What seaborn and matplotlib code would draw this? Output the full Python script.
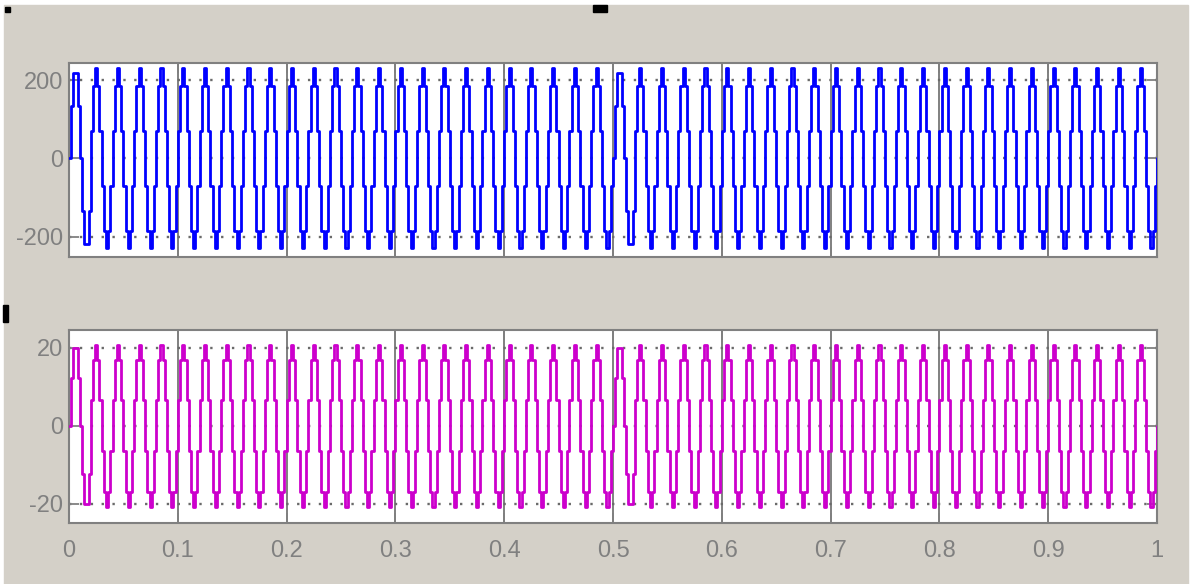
import numpy as np
import pandas as pd
import matplotlib
matplotlib.use("Agg")
import matplotlib.pyplot as plt
import seaborn as sns

# sample period of the logged signals (s) and the sample levels of one cycle,
# read off the scope picture (10 samples per 50 Hz cycle)
TS = 0.002
TOP_FLAT = [0, 135, 219, 219, 135, 0, -135, -219, -219, -135]
TOP_PEAK = [71, 186, 230, 186, 71, -71, -186, -228, -186, -71]
BOT_FLAT = [0, 12.3, 20.0, 20.0, 12.3, 0, -12.3, -20.0, -20.0, -12.3]
BOT_PEAK = [6.5, 17.0, 20.8, 17.0, 6.5, -6.5, -17.0, -20.8, -17.0, -6.5]
# which shape each of the 50 cycles has (F = flat top, P = pointed top)
CYCLE_SHAPES = "FPPPPPPPPPPPPPPPPPPPPPPPP" + "FPPPPPPPPPPPPPPPPPPPPPPPP"

X_TICKS = [0, 0.1, 0.2, 0.3, 0.4, 0.5, 0.6, 0.7, 0.8, 0.9, 1.0]
X_LABELS = ["0", "0.1", "0.2", "0.3", "0.4", "0.5", "0.6", "0.7", "0.8", "0.9", "1"]
TOP_YTICKS = [-200, 0, 200]
BOT_YTICKS = [-20, 0, 20]

BG = "#d4d0c8"
GREY = "#808080"


def build_signal(flat, peak):
    vals = []
    for s in CYCLE_SHAPES:
        vals.extend(flat if s == "F" else peak)
    vals.append(0)
    t = np.arange(len(vals)) * TS
    return pd.DataFrame({"t": t, "v": vals})


def style_axes(ax, yticks, ylim, show_x):
    ax.set_facecolor("white")
    ax.set_xlim(0, 1)
    ax.set_ylim(*ylim)
    ax.set_xticks(X_TICKS)
    ax.set_xticklabels(X_LABELS if show_x else [])
    ax.set_yticks(yticks)
    ax.set_yticklabels([str(v) for v in yticks])
    ax.set_xlabel("")
    ax.set_ylabel("")
    ax.tick_params(direction="in", length=7, width=1.3, color=GREY,
                   labelcolor=GREY, labelsize=17, top=True, right=True)
    ax.tick_params(axis="y", pad=4)
    ax.tick_params(axis="x", pad=12)
    for sp in ax.spines.values():
        sp.set_visible(True)
        sp.set_color(GREY)
        sp.set_linewidth(1.5)
    for x in X_TICKS[1:-1]:
        ax.axvline(x, color=GREY, lw=1.4, zorder=0.5)
    for y in yticks:
        ax.axhline(y, color="#6a6a6a", lw=1.7, ls=(0, (1, 3.6)), zorder=0.5)


sns.set_style("ticks")
plt.rcParams["font.family"] = ["Liberation Sans", "DejaVu Sans"]

fig = plt.figure(figsize=(11.92, 5.84), dpi=100, facecolor="white")
fig.add_artist(plt.Rectangle((4 / 1192, 0), 1184 / 1192, 579 / 584,
                             transform=fig.transFigure, color=BG, zorder=-10))
# little black handles of the scope window
for (x0, y0, w, h) in [(5, 7, 5, 5), (593, 5, 14, 7), (3, 305, 5, 17)]:
    fig.add_artist(plt.Rectangle((x0 / 1192, 1 - (y0 + h) / 584), w / 1192, h / 584,
                                 transform=fig.transFigure, color="black"))

ax1 = fig.add_axes([69 / 1192, 1 - 257 / 584, 1088 / 1192, 194 / 584])
ax2 = fig.add_axes([69 / 1192, 1 - 523 / 584, 1088 / 1192, 193 / 584])

top = build_signal(TOP_FLAT, TOP_PEAK)
bot = build_signal(BOT_FLAT, BOT_PEAK)

sns.lineplot(data=top, x="t", y="v", ax=ax1, color="#0000ff", lw=2.0,
             drawstyle="steps-post", estimator=None, sort=False, zorder=3)
sns.lineplot(data=bot, x="t", y="v", ax=ax2, color="#cc00cc", lw=2.0,
             drawstyle="steps-post", estimator=None, sort=False, zorder=3)

style_axes(ax1, TOP_YTICKS, (-252, 244), show_x=False)
style_axes(ax2, BOT_YTICKS, (-25, 24.6), show_x=True)

fig.savefig("out.png", dpi=100, facecolor=fig.get_facecolor())
